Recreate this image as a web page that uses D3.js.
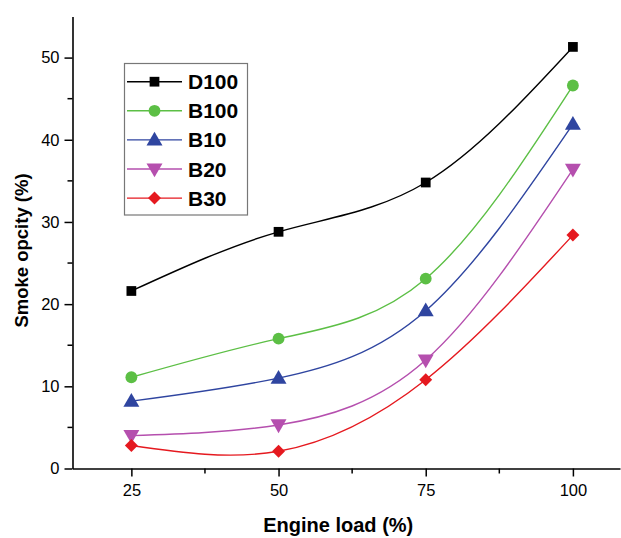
<!DOCTYPE html>
<html>
<head>
<meta charset="utf-8">
<script src="https://cdn.jsdelivr.net/npm/d3@7"></script>
<style>
  html, body { margin: 0; padding: 0; background: #fff; }
  svg { display: block; font-family: "Liberation Sans", Arial, sans-serif; }
</style>
</head>
<body>
<svg id="chart" width="621" height="538"></svg>
<script>
// Engine load levels (%)
const loads = [25, 50, 75, 100];

// Smoke opacity (%) per fuel blend
const d100 = [21.6, 28.8, 34.8, 51.3];
const b100 = [11.1, 15.8, 23.1, 46.6];
const b10  = [8.2, 11.0, 19.2, 41.9];
const b20  = [4.0, 5.3, 13.2, 36.4];
const b30  = [2.8, 2.1, 10.8, 28.4];

const seriesNames = ["D100", "B100", "B10", "B20", "B30"];
const seriesValues = [d100, b100, b10, b20, b30];
const seriesColors = ["#000000", "#5cbf45", "#2f45a0", "#b54fae", "#e5191f"];
const seriesSymbols = ["square", "circle", "triUp", "triDown", "diamond"];

const xTicks = [25, 50, 75, 100];
const yTicks = [0, 10, 20, 30, 40, 50];

const svg = d3.select("#chart");
const mLeft = 72.5, mRight = 620, mTop = 16.5, mBottom = 468.5;

const x = d3.scaleLinear().domain([15, 108]).range([mLeft, mRight]);
const y = d3.scaleLinear().domain([0, 55]).range([mBottom, mTop]);

// marker shapes: [d3 symbol type, area, rotation, vertical nudge]
const markerDefs = {
  square:  [d3.symbolSquare, 95, 0, 0],
  circle:  [d3.symbolCircle, 110, 0, 0],
  triUp:   [d3.symbolTriangle, 110, 0, 1],
  triDown: [d3.symbolTriangle, 110, 180, -1],
  diamond: [d3.symbolSquare, 84, 45, 0]
};
function markerPath(k) {
  const def = markerDefs[seriesSymbols[k]];
  return d3.symbol(def[0], def[1])();
}
function markerTransform(k, px, py) {
  const def = markerDefs[seriesSymbols[k]];
  return `translate(${px},${py + def[3]}) rotate(${def[2]})`;
}

// curves
const line = d3.line()
  .x((d, i) => x(loads[i]))
  .y(d => y(d))
  .curve(d3.curveNatural);

const plot = svg.append("g");
seriesValues.forEach((vals, k) => {
  plot.append("path")
    .datum(vals)
    .attr("d", line)
    .attr("fill", "none")
    .attr("stroke", seriesColors[k])
    .attr("stroke-width", 1.4);
});
seriesValues.forEach((vals, k) => {
  plot.selectAll(null)
    .data(vals)
    .enter()
    .append("path")
    .attr("d", markerPath(k))
    .attr("transform", (d, i) => markerTransform(k, x(loads[i]), y(d)))
    .attr("fill", seriesColors[k]);
});

// axes
const xAxis = d3.axisBottom(x).tickValues(xTicks).tickSize(8).tickPadding(8).tickSizeOuter(0);
const yAxis = d3.axisLeft(y).tickValues(yTicks).tickSize(8).tickPadding(5).tickSizeOuter(0);

const gx = svg.append("g").attr("transform", `translate(0,${mBottom})`).call(xAxis);
const gy = svg.append("g").attr("transform", `translate(${mLeft},0)`).call(yAxis);

// minor ticks
gx.selectAll(".minor").data([37.5, 62.5, 87.5]).enter().append("line")
  .attr("x1", d => x(d)).attr("x2", d => x(d)).attr("y1", 0).attr("y2", 5)
  .attr("stroke", "#000").attr("stroke-width", 1.5);
gy.selectAll(".minor").data([5, 15, 25, 35, 45]).enter().append("line")
  .attr("y1", d => y(d)).attr("y2", d => y(d)).attr("x1", 0).attr("x2", -5)
  .attr("stroke", "#000").attr("stroke-width", 1.5);

[gx, gy].forEach(g => {
  g.select(".domain").attr("stroke", "#000").attr("stroke-width", 1.6);
  g.selectAll(".tick line").attr("stroke", "#000").attr("stroke-width", 1.5);
  g.selectAll(".tick text")
    .attr("fill", "#000")
    .style("font-size", "16.5px")
    .style("font-family", "'Liberation Sans', Arial, sans-serif");
});

// axis titles
svg.append("text")
  .attr("x", (mLeft + mRight) / 2 - 8)
  .attr("y", 532)
  .attr("text-anchor", "middle")
  .style("font-size", "20px")
  .style("font-weight", "bold")
  .text("Engine load (%)");

svg.append("text")
  .attr("transform", `translate(28,${(mTop + mBottom) / 2 + 8}) rotate(-90)`)
  .attr("text-anchor", "middle")
  .style("font-size", "18.5px")
  .style("font-weight", "bold")
  .text("Smoke opcity (%)");

// legend
const lg = svg.append("g");
lg.append("rect")
  .attr("x", 124.5).attr("y", 63.5)
  .attr("width", 123).attr("height", 151.5)
  .attr("fill", "#fff")
  .attr("stroke", "#777")
  .attr("stroke-width", 1.2);

seriesNames.forEach((name, k) => {
  const cy = 81.7 + k * 29.1;
  lg.append("line")
    .attr("x1", 127).attr("x2", 182)
    .attr("y1", cy).attr("y2", cy)
    .attr("stroke", seriesColors[k]).attr("stroke-width", 1.4);
  lg.append("path")
    .attr("d", markerPath(k))
    .attr("transform", markerTransform(k, 154.5, cy))
    .attr("fill", seriesColors[k]);
  lg.append("text")
    .attr("x", 188)
    .attr("y", cy + 7.5)
    .style("font-size", "21px")
    .style("font-weight", "bold")
    .text(name);
});
</script>
</body>
</html>
